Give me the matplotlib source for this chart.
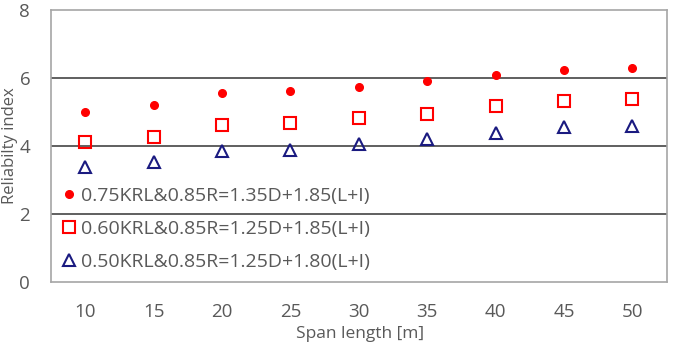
import matplotlib
matplotlib.use("Agg")
import matplotlib.pyplot as plt

plt.rcParams['font.family'] = ['Open Sans', 'DejaVu Sans']

# span lengths [m]
spans = [10, 15, 20, 25, 30, 35, 40, 45, 50]

# reliability index per load combination
beta_075 = [5.00, 5.20, 5.57, 5.63, 5.74, 5.92, 6.10, 6.22, 6.29]
beta_060 = [4.13, 4.26, 4.63, 4.68, 4.81, 4.93, 5.18, 5.32, 5.38]
beta_050 = [3.38, 3.54, 3.85, 3.89, 4.05, 4.20, 4.39, 4.55, 4.59]

labels = ["0.75KRL&0.85R=1.35D+1.85(L+I)",
          "0.60KRL&0.85R=1.25D+1.85(L+I)",
          "0.50KRL&0.85R=1.25D+1.80(L+I)"]

text_col = "#595959"

fig = plt.figure(figsize=(6.75, 3.43), dpi=100)
ax = fig.add_axes([0.0756, 0.178, 0.912, 0.793])

x = list(range(len(spans)))
ax.plot(x, beta_075, linestyle="none", marker="o", markersize=5.5,
        color="#ff0000", label=labels[0], zorder=3)
ax.plot(x, beta_060, linestyle="none", marker="s", markersize=9,
        markerfacecolor="none", markeredgecolor="#ff0000", markeredgewidth=1.5,
        label=labels[1], zorder=3)
ax.plot(x, beta_050, linestyle="none", marker="^", markersize=9,
        markerfacecolor="none", markeredgecolor="#1a1a80", markeredgewidth=1.5,
        label=labels[2], zorder=3)

ax.set_xlim(-0.5, len(spans) - 0.5)
ax.set_ylim(0, 8)
ax.set_xticks(x)
ax.set_xticklabels([str(s) for s in spans])
ax.set_yticks([0, 2, 4, 6, 8])

for yv in [2, 4, 6]:
    ax.axhline(yv, color="#444444", linewidth=1.2, zorder=1)

for sp in ax.spines.values():
    sp.set_color("#a6a6a6")
    sp.set_linewidth(1.2)

ax.tick_params(axis="both", length=0, labelsize=13.5, colors=text_col)
ax.tick_params(axis="x", pad=15)
ax.tick_params(axis="y", pad=15)

fig.text(10 / 675, 1 - 146 / 343, "Reliabilty index", rotation=90,
         ha="center", va="center", fontsize=12, color=text_col)
fig.text(360 / 675, 1 - 334 / 343, "Span length [m]",
         ha="center", va="center", fontsize=12.5, color=text_col)

leg = ax.legend(loc="lower left", bbox_to_anchor=(0.0, 0.0), frameon=False,
                fontsize=14, labelspacing=0.78, handlelength=0.7,
                handletextpad=0.3, borderaxespad=0.15, labelcolor=text_col)

fig.savefig("out.png", dpi=100)
